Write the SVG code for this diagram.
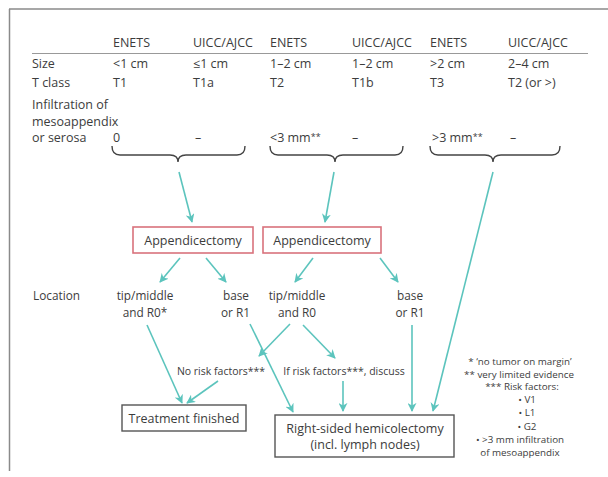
<svg xmlns="http://www.w3.org/2000/svg" width="608" height="477" viewBox="0 0 608 477">
<defs>
<style>
text{font-family:"Open Sans","Noto Sans",sans-serif;fill:#3c3c3c;font-size:12.5px}
.loc{font-size:11.8px}
.fn{font-size:10.5px}
.ft{font-size:9.8px}
.c{text-anchor:middle}
.brace{fill:none;stroke:#444;stroke-width:1.4}
.conn line{stroke:#5cc4bd;stroke-width:1.6}
.red{fill:#fff;stroke:#d9727c;stroke-width:1.6}
.blk{fill:#fff;stroke:#555;stroke-width:1.4}
</style>
<marker id="ah" viewBox="0 0 10 10" refX="9" refY="5" markerWidth="9" markerHeight="9" markerUnits="userSpaceOnUse" orient="auto">
<path d="M0,0 L10,5 L0,10 L3,5 Z" fill="#5cc4bd"/>
</marker>
</defs>
<rect width="608" height="477" fill="#fff"/>
<g id="frame">
<line x1="9" y1="9" x2="608" y2="9" stroke="#8a8a8a" stroke-width="1.5"/>
<line x1="9.5" y1="9" x2="9.5" y2="471" stroke="#8a8a8a" stroke-width="1.5"/>
</g>
<g id="table">
<text x="113" y="47">ENETS</text>
<text x="193" y="47">UICC/AJCC</text>
<text x="270" y="47">ENETS</text>
<text x="352" y="47">UICC/AJCC</text>
<text x="430" y="47">ENETS</text>
<text x="508" y="47">UICC/AJCC</text>
<line x1="32" y1="53.5" x2="588" y2="53.5" stroke="#999" stroke-width="1.2"/>
<text x="32" y="68">Size</text>
<text x="113" y="68">&lt;1 cm</text>
<text x="193" y="68">≤1 cm</text>
<text x="270" y="68">1–2 cm</text>
<text x="352" y="68">1–2 cm</text>
<text x="430" y="68">&gt;2 cm</text>
<text x="508" y="68">2–4 cm</text>
<text x="32" y="87">T class</text>
<text x="113" y="87">T1</text>
<text x="193" y="87">T1a</text>
<text x="270" y="87">T2</text>
<text x="352" y="87">T1b</text>
<text x="430" y="87">T3</text>
<text x="508" y="87">T2 (or &gt;)</text>
<text x="32" y="109">Infiltration of</text>
<text x="32" y="126">mesoappendix</text>
<text x="32" y="142">or serosa</text>
<text x="113" y="142">0</text>
<text x="195" y="142">–</text>
<text x="270" y="142">&lt;3 mm<tspan font-size="9px" dy="-2">**</tspan></text>
<text x="352" y="142">–</text>
<text x="432" y="142">&gt;3 mm<tspan font-size="9px" dy="-2">**</tspan></text>
<text x="510" y="142">–</text>
</g>
<g id="braces">
<path class="brace" d="M112,146 Q112,155 120,155 L170,155 Q178,155 178,162 Q178,155 186,155 L237,155 Q245,155 245,146"/>
<path class="brace" d="M270,146 Q270,155 278,155 L327,155 Q335,155 335,162 Q335,155 343,155 L395,155 Q403,155 403,146"/>
<path class="brace" d="M430,146 Q430,155 438,155 L485,155 Q493,155 493,162 Q493,155 501,155 L552,155 Q560,155 560,146"/>
</g>
<g id="appendicectomy1">
<rect class="red" x="133" y="227" width="120" height="26"/>
<text class="c" x="193" y="244.5">Appendicectomy</text>
</g>
<g id="appendicectomy2">
<rect class="red" x="263" y="227" width="118" height="26"/>
<text class="c" x="322" y="244.5">Appendicectomy</text>
</g>
<g id="location">
<text class="loc" x="33" y="300">Location</text>
</g>
<g id="tipmiddle1">
<text class="c loc" x="145" y="300">tip/middle</text>
<text class="c loc" x="145" y="317">and R0*</text>
</g>
<g id="base1">
<text class="loc" x="249" y="300" text-anchor="end">base</text>
<text class="loc" x="250" y="317" text-anchor="end">or R1</text>
</g>
<g id="tipmiddle2">
<text class="c loc" x="297" y="300">tip/middle</text>
<text class="c loc" x="297" y="317">and R0</text>
</g>
<g id="base2">
<text class="c loc" x="410" y="300">base</text>
<text class="c loc" x="410" y="317">or R1</text>
</g>
<g id="norisk">
<text class="c fn" x="221" y="375">No risk factors***</text>
</g>
<g id="ifrisk">
<text class="c fn" x="344" y="375">If risk factors***, discuss</text>
</g>
<g id="treatment">
<rect class="blk" x="122" y="405" width="124" height="26"/>
<text class="c" x="184" y="422.5">Treatment finished</text>
</g>
<g id="hemicolectomy">
<rect class="blk" x="275" y="415" width="179" height="42"/>
<text class="c" x="365" y="433">Right-sided hemicolectomy</text>
<text class="c" x="365" y="449">(incl. lymph nodes)</text>
</g>
<g id="footnotes">
<text class="c ft" x="520" y="365">* ‘no tumor on margin’</text>
<text class="c ft" x="519" y="377.5">** very limited evidence</text>
<text class="c ft" x="522" y="390">*** Risk factors:</text>
<text class="c ft" x="527" y="403">• V1</text>
<text class="c ft" x="527" y="416">• L1</text>
<text class="c ft" x="527" y="429.5">• G2</text>
<text class="c ft" x="520" y="443">• &gt;3 mm infiltration</text>
<text class="c ft" x="520" y="456">of mesoappendix</text>
</g>
<g class="conn" id="connectors">
<line x1="179" y1="172" x2="192" y2="222" marker-end="url(#ah)"/>
<line x1="334" y1="172" x2="325" y2="222" marker-end="url(#ah)"/>
<line x1="493" y1="172" x2="433" y2="411" marker-end="url(#ah)"/>
<line x1="180" y1="258" x2="160" y2="282" marker-end="url(#ah)"/>
<line x1="206" y1="258" x2="226" y2="282" marker-end="url(#ah)"/>
<line x1="313" y1="258" x2="295" y2="282" marker-end="url(#ah)"/>
<line x1="380" y1="258" x2="398" y2="282" marker-end="url(#ah)"/>
<line x1="147" y1="325" x2="182" y2="403" marker-end="url(#ah)"/>
<line x1="250" y1="324" x2="293" y2="412" marker-end="url(#ah)"/>
<line x1="290" y1="324" x2="259" y2="356" marker-end="url(#ah)"/>
<line x1="303" y1="325" x2="335" y2="358" marker-end="url(#ah)"/>
<line x1="412" y1="325" x2="412" y2="411" marker-end="url(#ah)"/>
<line x1="218" y1="381" x2="187" y2="403" marker-end="url(#ah)"/>
<line x1="343" y1="381" x2="343" y2="411" marker-end="url(#ah)"/>
</g>
</svg>
